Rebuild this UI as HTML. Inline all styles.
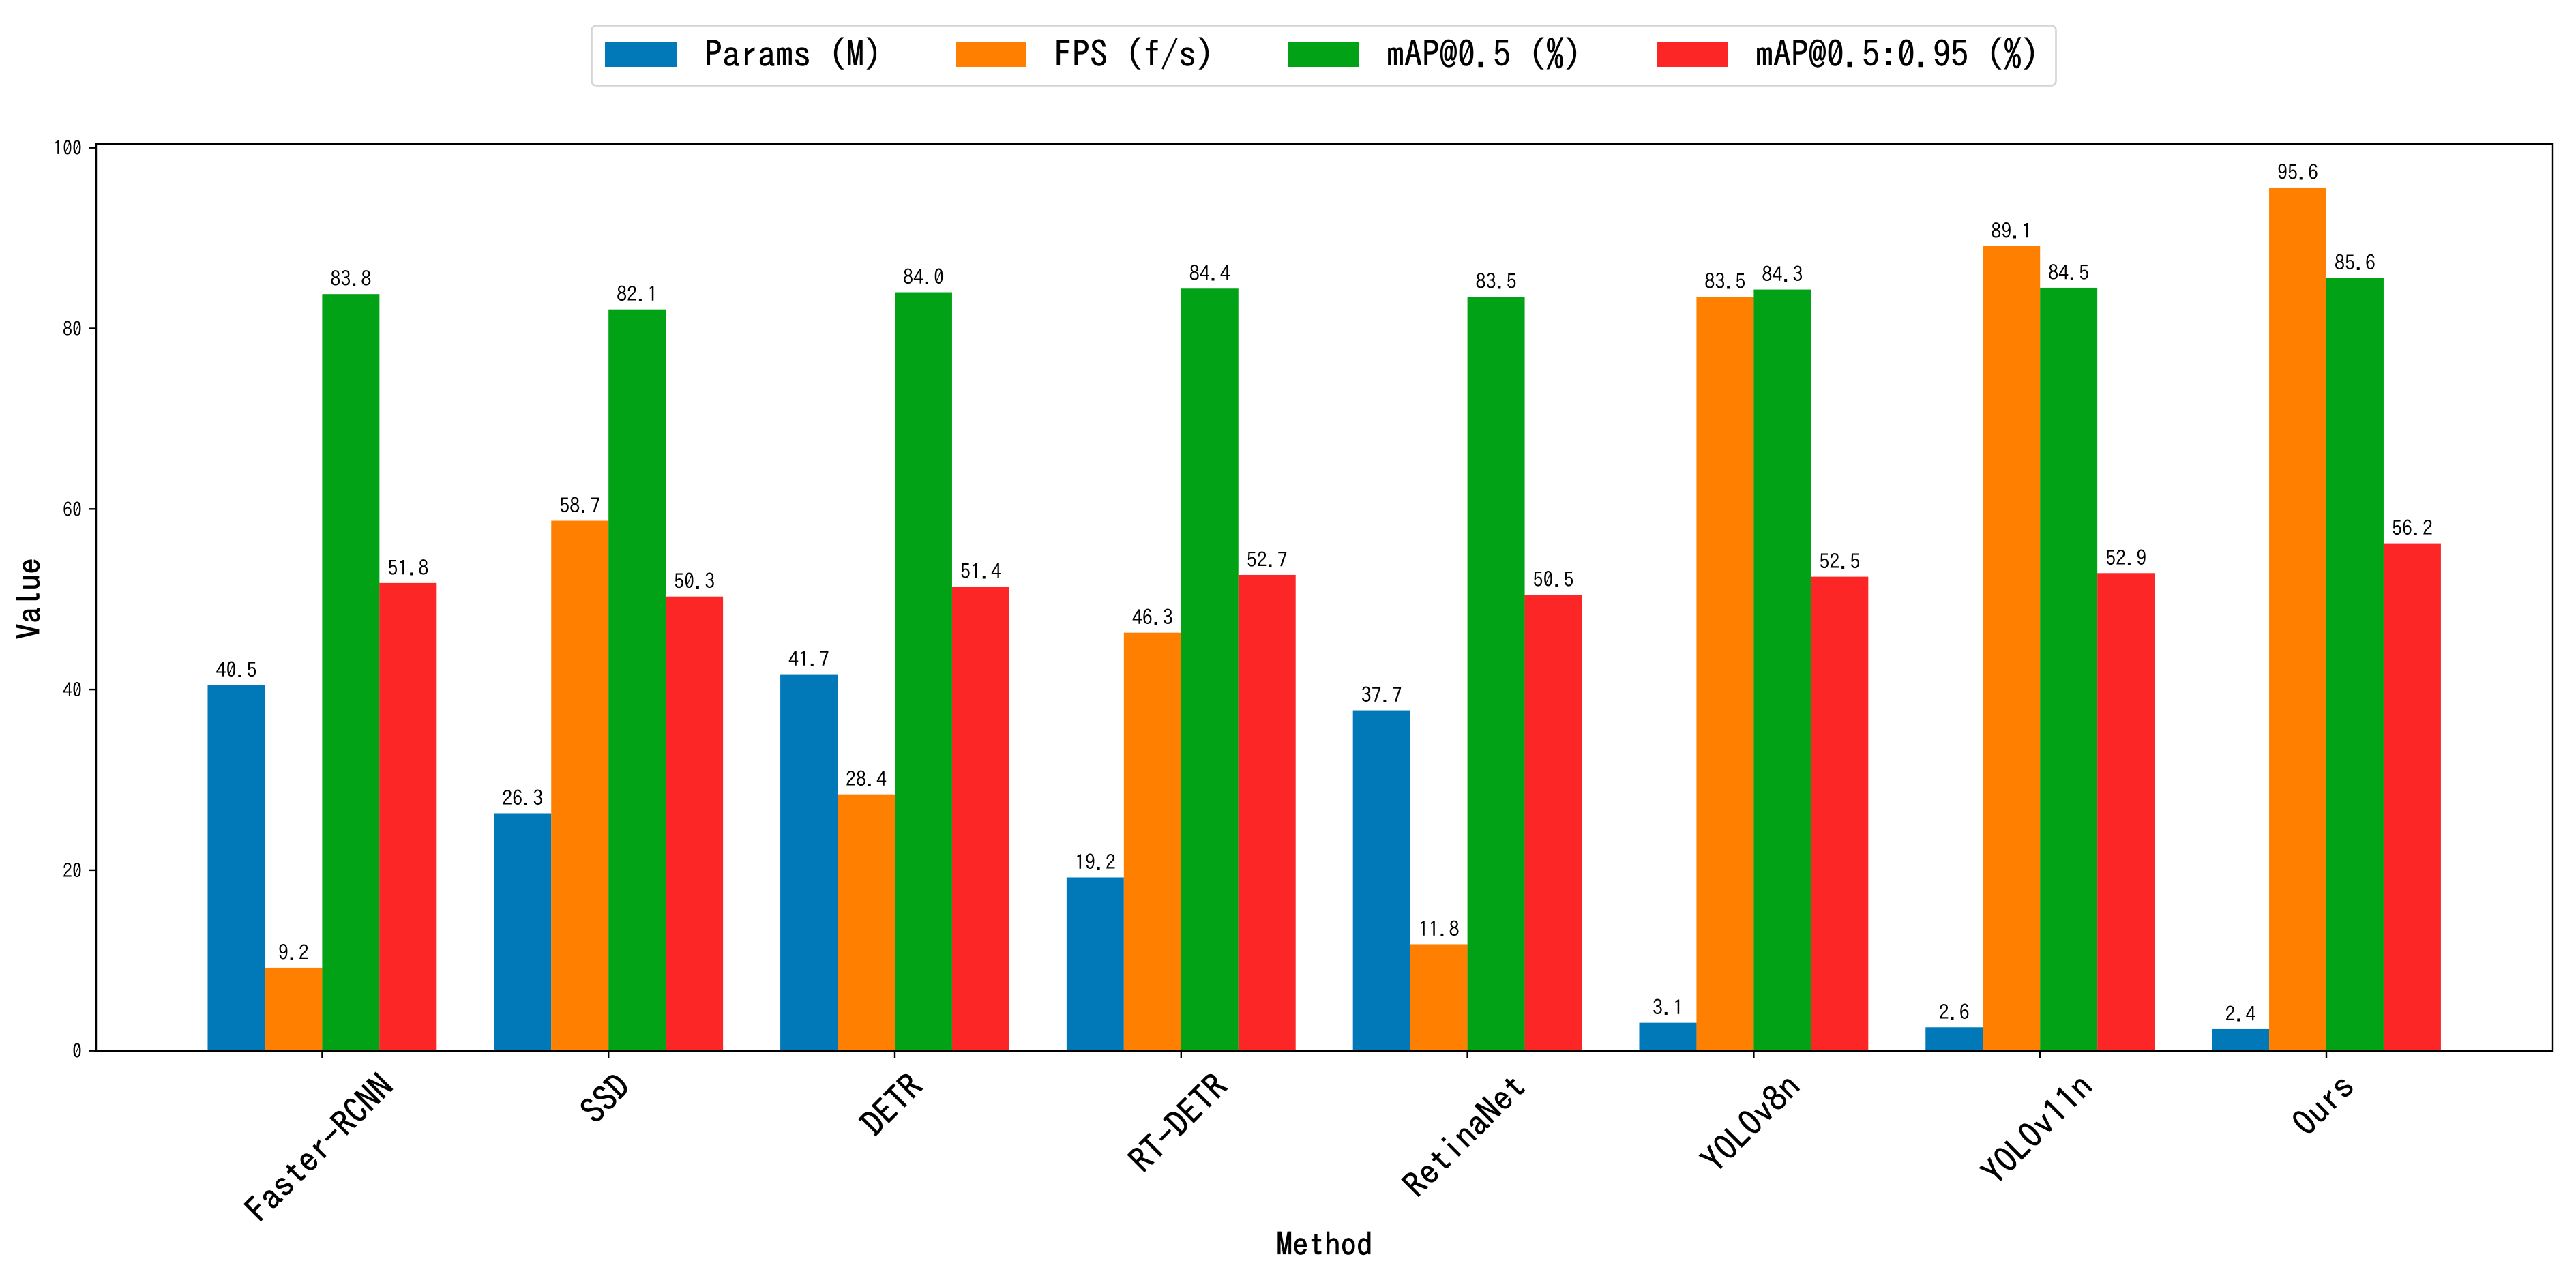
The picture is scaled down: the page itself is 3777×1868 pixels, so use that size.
<!DOCTYPE html>
<html lang="en">
<head>
<meta charset="utf-8">
<title>Detection method comparison</title>
<style>
  html, body { margin: 0; padding: 0; background: #fff; }
  svg { display: block; }
  text { font-family: "IPAGothic", "WenQuanYi Zen Hei", "Liberation Mono", monospace; fill: #000; }
</style>
</head>
<body>
<svg id="chart" xmlns="http://www.w3.org/2000/svg" width="3777" height="1868" viewBox="0 0 3777 1868">
  <rect x="0" y="0" width="3777" height="1868" fill="#ffffff"/>
  <g id="bars"></g>
  <g id="bar-labels"></g>
  <rect x="141" y="211" width="3602" height="1330" fill="none" stroke="#000" stroke-width="2.4"/>
  <g id="y-axis"></g>
  <g id="x-axis"></g>
  <text transform="translate(59.5 878) rotate(-90)" text-anchor="middle" font-size="48" stroke="#000" stroke-width="0.8">Value</text>
  <text x="1942" y="1841" text-anchor="middle" font-size="47" stroke="#000" stroke-width="0.8">Method</text>
  <g>
    <rect x="867.5" y="37.5" width="2147" height="88" rx="7" ry="7" fill="#fff" stroke="#d4d4d4" stroke-width="2.6"/>
    <g>
      <rect x="887" y="61" width="105" height="37" fill="#0178b7"/>
      <text x="1033" y="98" font-size="52" stroke="#000" stroke-width="0.5">Params (M)</text>
    </g>
    <g>
      <rect x="1401" y="61" width="104" height="37" fill="#ff8000"/>
      <text x="1546" y="98" font-size="52" stroke="#000" stroke-width="0.5">FPS (f/s)</text>
    </g>
    <g>
      <rect x="1888" y="61" width="105" height="37" fill="#02a216"/>
      <text x="2033" y="98" font-size="52" stroke="#000" stroke-width="0.5">mAP@0.5 (%)</text>
    </g>
    <g>
      <rect x="2430" y="61" width="104" height="37" fill="#fc2626"/>
      <text x="2574" y="98" font-size="52" stroke="#000" stroke-width="0.5">mAP@0.5:0.95 (%)</text>
    </g>
  </g>
</svg>
<script>
const categories = ["Faster-RCNN", "SSD", "DETR", "RT-DETR", "RetinaNet", "YOLOv8n", "YOLOv11n", "Ours"];
const paramsValues = [40.5, 26.3, 41.7, 19.2, 37.7, 3.1, 2.6, 2.4];
const fpsValues = [9.2, 58.7, 28.4, 46.3, 11.8, 83.5, 89.1, 95.6];
const map50Values = [83.8, 82.1, 84.0, 84.4, 83.5, 84.3, 84.5, 85.6];
const map5095Values = [51.8, 50.3, 51.4, 52.7, 50.5, 52.5, 52.9, 56.2];
const seriesNames = ["params", "fps", "map50", "map5095"];
const yTickValues = [0, 20, 40, 60, 80, 100];

const seriesValues = [paramsValues, fpsValues, map50Values, map5095Values];
const seriesColors = ["#0178b7", "#ff8000", "#02a216", "#fc2626"];
const NS = "http://www.w3.org/2000/svg";
const groupStep = 419.8;
const firstGroupX = 472.4;
const barWidth = groupStep * 0.2;
const yZero = 1540.7;
const yUnit = 13.24;

function xScale(groupIndex) {
  return firstGroupX + groupIndex * groupStep;
}
function yScale(value) {
  return yZero - value * yUnit;
}
function make(tag, attrs, parent) {
  const el = document.createElementNS(NS, tag);
  for (const key in attrs) el.setAttribute(key, attrs[key]);
  parent.appendChild(el);
  return el;
}

const barsGroup = document.getElementById("bars");
const labelsGroup = document.getElementById("bar-labels");
const yAxisGroup = document.getElementById("y-axis");
const xAxisGroup = document.getElementById("x-axis");

seriesValues.forEach(function (values, s) {
  values.forEach(function (value, i) {
    const left = xScale(i) + (s - 2) * barWidth;
    const bar = make("rect", {
      x: left,
      y: yScale(value),
      width: barWidth,
      height: yZero - yScale(value),
      fill: seriesColors[s]
    }, barsGroup);
    
    

    const label = make("text", {
      x: left + barWidth / 2,
      y: yScale(value) - 11.5,
      "text-anchor": "middle",
      "font-size": 30
    }, labelsGroup);
    
    
    label.textContent = value.toFixed(1);
  });
});

yTickValues.forEach(function (tick) {
  const mark = make("line", {
    x1: 130, x2: 141, y1: yScale(tick), y2: yScale(tick),
    stroke: "#000", "stroke-width": 2.4
  }, yAxisGroup);
  
  

  const label = make("text", {
    x: 120,
    y: yScale(tick) + 11,
    "text-anchor": "end",
    "font-size": 28
  }, yAxisGroup);
  
  
  label.textContent = String(tick);
});

const xLabelSize = 51;
categories.forEach(function (name, i) {
  const mark = make("line", {
    x1: xScale(i), x2: xScale(i), y1: yZero, y2: yZero + 11,
    stroke: "#000", "stroke-width": 2.4
  }, xAxisGroup);
  
  

  const textWidth = name.length * xLabelSize / 2;
  const half = (textWidth + xLabelSize) * Math.SQRT1_2 / 2;
  const centerY = 1566 + half;
  const label = make("text", {
    transform: "translate(" + (xScale(i) - 4) + " " + centerY + ") rotate(-45)",
    "text-anchor": "middle",
    y: xLabelSize * 0.35,
    "font-size": xLabelSize,
    stroke: "#000",
    "stroke-width": 0.6
  }, xAxisGroup);
  
  
  label.textContent = name;
});
</script>
</body>
</html>
